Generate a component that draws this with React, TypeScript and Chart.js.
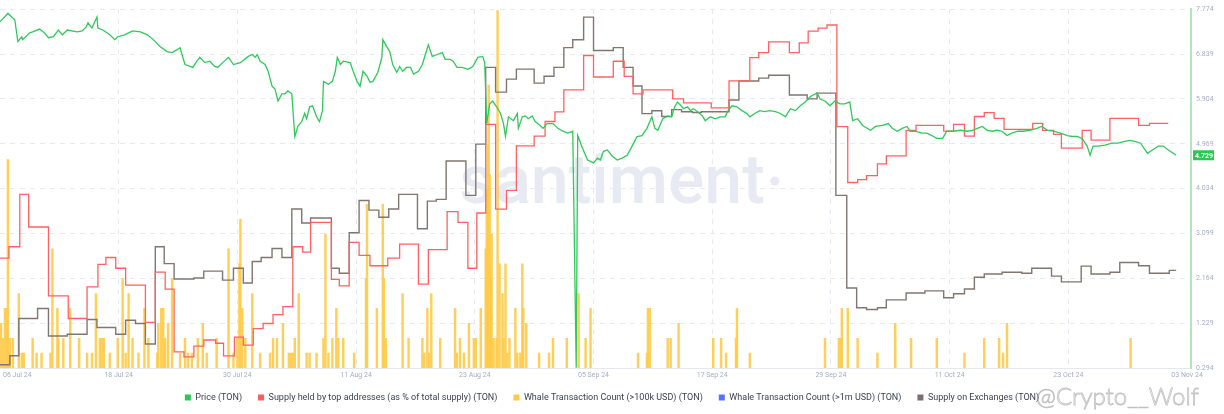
import React, { useEffect, useRef } from "react";
import { Chart, registerables } from "chart.js";

Chart.register(...registerables);
Chart.defaults.font.family = 'Roboto, "Noto Sans", sans-serif';

// ---- Axis tick labels ----
const xTickDays = [0, 12, 24, 36, 48, 60, 72, 84, 96, 108, 120];
const xTickLabels = [
  "06 Jul 24", "18 Jul 24", "30 Jul 24", "11 Aug 24", "23 Aug 24", "05 Sep 24",
  "17 Sep 24", "29 Sep 24", "11 Oct 24", "23 Oct 24", "03 Nov 24",
];
const priceTicks = [0.294, 1.229, 2.164, 3.099, 4.034, 4.969, 5.904, 6.839, 7.774];

// ---- Price (TON), x = days since 06 Jul 24 ----
const priceDays = [
  0, 0.8, 1.5, 1.8, 2.2, 2.3, 3.0, 3.3, 4.0, 4.5,
  4.9, 5.4, 5.9, 6.3, 6.8, 7.8, 8.3, 8.7, 8.9, 9.3,
  9.8, 9.9, 10.4, 11.1, 11.6, 11.9, 12.6, 13.4, 14.2, 14.9,
  15.5, 16.2, 16.9, 17.4, 17.9, 18.2, 18.7, 19.2, 19.5, 19.9,
  20.2, 20.7, 21.2, 21.7, 22.0, 22.5, 23.1, 23.6, 24.3, 25.1,
  25.5, 25.8, 26.0, 26.3, 26.8, 27.1, 27.5, 27.8, 28.1, 28.5,
  28.8, 29.1, 29.5, 29.8, 30.0, 30.1, 30.5, 30.8, 31.0, 31.3,
  31.6, 32.0, 32.3, 32.6, 32.7, 33.2, 33.6, 33.9, 34.1, 34.4,
  34.7, 35.4, 35.7, 36.1, 36.4, 36.7, 37.1, 37.4, 37.7, 38.2,
  38.6, 38.7, 39.1, 39.4, 39.7, 40.1, 40.4, 40.7, 41.1, 41.5,
  41.8, 42.3, 42.7, 43.0, 43.3, 43.7, 44.2, 44.7, 45.0, 45.5,
  45.8, 46.2, 46.7, 47.3, 47.8, 48.3, 48.8, 49.0, 49.2, 49.5,
  49.8, 50.2, 50.6, 50.9, 51.1, 51.4, 51.9, 52.3, 52.4, 52.8,
  53.1, 53.4, 53.8, 54.1, 54.6, 54.9, 55.3, 55.9, 56.4, 56.9,
  57.4, 57.9, 58.25, 58.4, 58.8, 59.1, 59.4, 60.0, 60.4, 60.7,
  61.0, 61.4, 61.9, 62.4, 62.9, 63.4, 63.9, 64.4, 64.9, 65.4,
  65.9, 66.2, 66.5, 67.0, 67.5, 67.9, 68.2, 68.5, 69.1, 69.5,
  69.8, 70.1, 70.5, 71.0, 71.3, 71.8, 72.3, 72.8, 73.3, 73.6,
  74.0, 74.5, 75.0, 75.5, 75.8, 76.3, 76.8, 77.3, 77.8, 78.4,
  78.9, 79.4, 79.9, 80.4, 80.9, 81.4, 81.9, 82.6, 82.9, 83.4,
  83.9, 84.4, 84.9, 85.4, 85.9, 86.2, 86.7, 87.2, 88.0, 88.5,
  89.2, 89.8, 90.2, 90.7, 91.2, 91.7, 92.0, 92.5, 93.2, 93.7,
  94.2, 94.7, 95.3, 95.7, 96.3, 97.1, 97.8, 98.3, 98.8, 99.3,
  99.8, 100.3, 100.8, 101.3, 101.8, 102.3, 102.9, 103.4, 104.1, 104.8,
  105.3, 105.9, 106.5, 107.2, 107.9, 108.4, 108.9, 109.4, 109.9, 110.2,
  110.5, 111.0, 111.7, 112.4, 113.0, 113.7, 114.2, 114.7, 115.3, 116.0,
  116.5, 117.1, 117.6, 118.1, 118.6, 118.9,
];
const priceValues = [
  7.51, 7.69, 7.55, 7.10, 7.20, 7.14, 7.28, 7.30, 7.36, 7.28,
  7.18, 7.20, 7.34, 7.24, 7.34, 7.30, 7.32, 7.40, 7.49, 7.38,
  7.61, 7.38, 7.34, 7.24, 7.14, 7.20, 7.24, 7.32, 7.30, 7.24,
  7.14, 6.99, 6.89, 6.87, 6.93, 6.97, 6.62, 6.58, 6.56, 6.69,
  6.77, 6.66, 6.69, 6.58, 6.56, 6.66, 6.77, 6.62, 6.66, 6.79,
  6.83, 6.77, 6.83, 6.69, 6.62, 6.48, 6.17, 6.11, 5.86, 6.01,
  6.01, 6.07, 6.01, 5.12, 5.25, 5.33, 5.43, 5.60, 5.49, 5.74,
  5.76, 5.53, 5.43, 5.66, 6.27, 6.21, 6.27, 6.48, 6.77, 6.62,
  6.69, 6.66, 6.48, 6.27, 6.17, 6.48, 6.38, 6.25, 6.27, 6.46,
  6.77, 7.14, 6.99, 6.89, 6.62, 6.46, 6.58, 6.48, 6.56, 6.56,
  6.42, 6.48, 6.62, 6.83, 7.03, 6.79, 6.83, 6.87, 6.73, 6.73,
  6.69, 6.56, 6.56, 6.52, 6.58, 6.77, 6.79, 6.66, 5.39, 5.80,
  5.86, 5.74, 5.60, 5.39, 5.12, 5.53, 5.45, 5.60, 5.29, 5.53,
  5.55, 5.49, 5.55, 5.43, 5.35, 5.29, 5.39, 5.39, 5.29, 5.23,
  5.19, 5.23, 0.30, 5.14, 4.92, 4.77, 4.63, 4.57, 4.67, 4.63,
  4.81, 4.84, 4.71, 4.63, 4.67, 4.73, 4.92, 5.12, 5.14, 5.29,
  5.53, 5.29, 5.25, 5.49, 5.55, 5.53, 5.74, 5.84, 5.70, 5.74,
  5.66, 5.70, 5.64, 5.55, 5.45, 5.53, 5.49, 5.53, 5.53, 5.66,
  5.76, 5.74, 5.66, 5.60, 5.53, 5.60, 5.66, 5.64, 5.66, 5.64,
  5.60, 5.53, 5.70, 5.66, 5.76, 5.84, 5.95, 6.03, 5.90, 5.86,
  5.76, 5.86, 5.80, 5.80, 5.84, 5.45, 5.49, 5.35, 5.25, 5.33,
  5.35, 5.39, 5.29, 5.23, 5.29, 5.33, 5.23, 5.23, 5.19, 5.19,
  5.14, 5.08, 5.08, 5.23, 5.23, 5.25, 5.23, 5.25, 5.29, 5.33,
  5.25, 5.23, 5.25, 5.23, 5.14, 5.19, 5.23, 5.23, 5.25, 5.29,
  5.33, 5.25, 5.23, 5.19, 5.14, 5.12, 5.12, 5.08, 4.92, 4.73,
  4.92, 4.92, 4.94, 4.98, 4.98, 5.02, 5.04, 5.02, 4.98, 4.77,
  4.84, 4.92, 4.92, 4.84, 4.77, 4.729,
];

// ---- Supply held by top addresses (relative level, step changes) ----
const topHolderDays = [
  0, 0.9, 2.0, 2.9, 4.9, 6.9, 8.8, 9.9, 10.7, 11.7,
  12.7, 14.7, 15.7, 16.7, 17.6, 18.6, 19.6, 20.6, 21.8, 22.6,
  23.7, 24.6, 25.6, 26.6, 27.6, 28.6, 29.6, 30.6, 31.4, 33.5,
  34.3, 35.3, 36.3, 37.4, 39.2, 40.4, 42.3, 43.3, 45.2, 46.3,
  47.3, 48.2, 49.1, 50.1, 51.2, 52.2, 54.0, 55.1, 56.1, 57.0,
  59.0, 60.0, 62.0, 63.1, 64.0, 65.0, 68.0, 69.1, 71.9, 73.7,
  75.8, 76.7, 77.7, 79.8, 80.8, 81.7, 82.7, 83.6, 84.6, 85.7,
  86.7, 87.6, 88.7, 89.6, 91.6, 92.6, 95.4, 96.4, 97.5, 98.5,
  99.5, 100.5, 101.5, 104.4, 105.4, 106.5, 107.3, 109.4, 110.3, 112.2,
  115.1, 116.2, 118.1,
];
const topHolderValues = [
  30.6, 33.8, 48.4, 39.3, 20.1, 13.8, 22.6, 28.9, 30.8, 27.8,
  23.1, 12.7, 26.7, 22.0, 4.5, 3.1, 6.1, 7.8, 6.9, 3.4,
  8.6, 6.4, 11.0, 12.4, 14.9, 17.1, 33.8, 32.3, 40.6, 24.7,
  22.9, 35.0, 31.4, 28.5, 30.6, 34.5, 23.4, 33.0, 43.6, 40.6,
  27.8, 43.2, 67.9, 44.3, 49.5, 61.9, 64.6, 68.7, 71.4, 77.5,
  87.1, 81.1, 85.5, 81.3, 76.4, 77.5, 75.0, 73.9, 72.5, 80.0,
  86.5, 87.9, 90.9, 87.9, 90.6, 93.9, 94.7, 95.6, 67.3, 51.7,
  52.5, 53.6, 56.9, 59.1, 66.2, 67.6, 66.0, 67.9, 64.6, 70.1,
  71.2, 69.6, 66.5, 68.2, 66.2, 65.1, 61.3, 66.2, 63.5, 69.6,
  67.6, 68.2, 68.2,
];

// ---- Supply on exchanges (relative level, step changes) ----
const exchangeDays = [
  0, 1.0, 1.9, 3.8, 4.9, 6.8, 8.8, 9.8, 11.7, 12.7,
  13.7, 14.7, 15.7, 16.6, 17.6, 19.6, 20.6, 22.5, 23.6, 24.6,
  25.5, 26.4, 27.5, 28.5, 29.5, 30.5, 31.4, 33.5, 34.3, 35.3,
  36.3, 37.3, 38.3, 39.3, 40.3, 42.2, 43.2, 44.1, 45.1, 47.1,
  48.1, 49.1, 50.1, 51.2, 52.2, 54.0, 55.0, 56.0, 57.0, 57.9,
  59.0, 60.0, 62.0, 63.0, 64.0, 64.9, 65.9, 66.9, 67.9, 68.9,
  70.0, 70.9, 73.7, 74.7, 76.7, 77.7, 79.8, 81.6, 82.6, 84.5,
  85.6, 86.6, 87.6, 88.7, 89.6, 91.6, 93.5, 95.4, 96.4, 97.5,
  98.5, 99.5, 101.3, 103.3, 104.3, 106.3, 107.3, 109.3, 110.3, 112.2,
  113.2, 115.1, 116.2, 118.2, 118.9,
];
const exchangeValues = [
  0.9, 3.4, 13.8, 16.6, 8.9, 9.4, 13.5, 11.3, 9.4, 13.3,
  12.4, 6.7, 33.8, 29.1, 24.8, 25.1, 27.0, 24.5, 27.8, 23.7,
  29.7, 30.8, 33.3, 30.8, 44.3, 40.4, 41.8, 27.8, 26.4, 37.7,
  46.7, 44.0, 42.0, 44.3, 48.4, 38.8, 46.5, 47.0, 57.7, 48.1,
  62.4, 83.8, 76.9, 80.5, 83.3, 79.4, 81.3, 83.8, 89.3, 91.5,
  97.8, 88.5, 89.3, 83.8, 78.6, 70.9, 71.7, 70.1, 72.0, 71.4,
  71.2, 71.4, 74.7, 80.0, 80.8, 81.6, 76.1, 75.0, 76.6, 48.1,
  22.3, 16.8, 16.3, 16.8, 19.0, 20.9, 21.5, 19.6, 20.7, 22.0,
  25.3, 26.2, 26.7, 26.4, 27.8, 25.6, 24.0, 28.4, 26.2, 26.7,
  29.4, 28.5, 26.4, 27.2, 27.2,
];

// ---- Whale Transaction Count (>100k USD) ----
const whaleDays = [
  0.1, 0.3, 0.5, 0.7, 0.8, 1.0, 1.3, 1.9, 2.2, 2.4,
  3.3, 3.7, 4.2, 5.1, 5.3, 5.8, 5.9, 6.4, 7.1, 8.0,
  8.8, 9.3, 9.7, 10.1, 10.3, 10.5, 11.1, 11.9, 12.4, 12.7,
  13.0, 13.4, 14.0, 14.6, 15.0, 15.9, 16.0, 16.3, 16.5, 16.7,
  17.0, 17.4, 18.2, 18.7, 19.0, 19.4, 20.0, 20.5, 20.9, 21.9,
  23.1, 23.6, 24.0, 24.2, 24.3, 24.5, 24.8, 25.5, 26.3, 27.3,
  27.6, 28.0, 28.6, 29.2, 29.4, 29.6, 29.8, 30.2, 31.0, 31.3,
  32.0, 32.7, 32.9, 33.2, 33.6, 34.0, 34.2, 34.7, 35.8, 37.0,
  37.1, 38.1, 38.7, 38.8, 39.0, 40.7, 41.3, 42.7, 42.9, 43.2,
  43.4, 43.6, 44.5, 46.0, 46.2, 46.5, 46.9, 47.4, 47.9, 48.1,
  48.6, 49.1, 49.2, 49.3, 49.4, 49.5, 49.6, 49.7, 49.9, 50.2,
  50.3, 50.5, 50.8, 50.9, 51.1, 51.3, 51.5, 52.1, 52.3, 52.6,
  52.8, 52.9, 53.2, 54.5, 55.5, 55.9, 57.3, 58.5, 59.2, 59.7,
  64.5, 65.4, 65.5, 65.7, 67.5, 67.8, 68.6, 72.1, 72.9, 73.4,
  74.4, 74.5, 75.8, 83.4, 84.8, 85.0, 85.1, 85.7, 86.7, 88.7,
  90.5, 92.1, 94.7, 97.5, 99.5, 101.0, 101.4, 101.8, 114.3,
];
const whaleCounts = [
  3, 2, 4, 4, 14, 2, 2, 5, 1, 1,
  2, 1, 1, 1, 8, 4, 2, 2, 4, 2,
  1, 1, 5, 2, 2, 2, 1, 2, 6, 1,
  5, 2, 1, 4, 2, 1, 3, 4, 4, 2,
  3, 6, 1, 2, 1, 1, 2, 3, 1, 2,
  8, 1, 2, 7, 10, 4, 2, 5, 1, 1,
  2, 2, 3, 1, 1, 1, 2, 5, 1, 1,
  1, 2, 9, 1, 2, 4, 2, 2, 1, 6,
  11, 4, 11, 6, 2, 5, 2, 2, 1, 4,
  1, 5, 2, 4, 1, 2, 1, 3, 2, 2,
  4, 8, 12, 15, 19, 13, 6, 9, 2, 2,
  24, 7, 5, 2, 7, 1, 2, 4, 1, 1,
  7, 4, 3, 1, 1, 2, 2, 5, 2, 4,
  1, 1, 4, 4, 2, 2, 3, 2, 2, 1,
  2, 4, 1, 2, 2, 2, 4, 4, 2, 1,
  3, 2, 2, 1, 2, 2, 1, 3, 2,
];

// ---- Whale Transaction Count (>1m USD): nothing visible ----
const whale1mDays: number[] = [];
const whale1mCounts: number[] = [];

const seriesLabels = [
  "Price (TON)",
  "Supply held by top addresses (as % of total supply) (TON)",
  "Whale Transaction Count (>100k USD) (TON)",
  "Whale Transaction Count (>1m USD) (TON)",
  "Supply on Exchanges (TON)",
];
const seriesColors = ["#26c953", "#ff5b5b", "#ffcb47", "#5275ff", "#7b716c"];

const GRID = "#e7e9f1";
const TICK = "#a6adc2";

function toPoints(xs: number[], ys: number[]) {
  return xs.map((x, i) => ({ x, y: ys[i] }));
}
function toSteps(xs: number[], ys: number[]) {
  const pts: { x: number; y: number }[] = [];
  xs.forEach((x, i) => {
    if (i > 0) pts.push({ x, y: ys[i - 1] });
    pts.push({ x, y: ys[i] });
  });
  return pts;
}

const watermarkPlugin = {
  id: "santimentMark",
  beforeDatasetsDraw(chart: any) {
    const { ctx, width } = chart;
    ctx.save();
    ctx.font = '500 68px Roboto, "Noto Sans", sans-serif';
    ctx.fillStyle = "#e8eaf3";
    ctx.textAlign = "center";
    ctx.textBaseline = "alphabetic";
    const cx = width / 2;
    const by = 203;
    ctx.fillText("santiment", cx, by);
    const w = ctx.measureText("santiment").width;
    ctx.beginPath();
    ctx.arc(cx + w / 2 + 10, by - 22, 4.5, 0, Math.PI * 2);
    ctx.fill();
    ctx.restore();
  },
};

const xLabelPlugin = {
  id: "xLabels",
  afterDraw(chart: any) {
    const { ctx, chartArea } = chart;
    const xs = chart.scales.x;
    ctx.save();
    ctx.font = '7px Roboto, "Noto Sans", sans-serif';
    ctx.fillStyle = TICK;
    ctx.textAlign = "center";
    ctx.textBaseline = "middle";
    xTickDays.forEach((d, i) => {
      const label = xTickLabels[i];
      const w = ctx.measureText(label).width;
      const px = Math.max(xs.getPixelForValue(d), w / 2 + 3);
      ctx.fillText(label, px, chartArea.bottom + 7.5);
    });
    ctx.restore();
  },
};

const priceTagPlugin = {
  id: "priceTag",
  afterDraw(chart: any) {
    const { ctx, chartArea } = chart;
    const last = priceValues[priceValues.length - 1];
    const y = chart.scales.yPrice.getPixelForValue(last);
    const x = chartArea.right + 2;
    ctx.save();
    ctx.fillStyle = seriesColors[0];
    ctx.fillRect(x, y - 5, 21, 10);
    ctx.font = 'bold 7px Roboto, "Noto Sans", sans-serif';
    ctx.fillStyle = "#ffffff";
    ctx.textAlign = "left";
    ctx.textBaseline = "middle";
    ctx.fillText(last.toFixed(3), x + 2, y + 0.5);
    ctx.restore();
  },
};

export default function App() {
  const canvasRef = useRef<HTMLCanvasElement>(null);

  useEffect(() => {
    if (!canvasRef.current) return;
    const chart = new Chart(canvasRef.current, {
      type: "line",
      data: {
        datasets: [
          {
            type: "line",
            label: seriesLabels[0],
            data: toPoints(priceDays, priceValues),
            borderColor: "#2fc95a",
            borderWidth: 1.3,
            pointRadius: 0,
            tension: 0,
            yAxisID: "yPrice",
            order: 0,
          },
          {
            type: "line",
            label: seriesLabels[1],
            data: toSteps(topHolderDays, topHolderValues),
            borderColor: "#ff6161",
            borderWidth: 1.3,
            pointRadius: 0,
            tension: 0,
            yAxisID: "yTop",
            order: 1,
          },
          {
            type: "bar",
            label: seriesLabels[2],
            data: toPoints(whaleDays, whaleCounts),
            backgroundColor: "rgba(255, 203, 71, 0.9)",
            barThickness: 1.8,
            stack: "whale",
            yAxisID: "yWhale",
            order: 3,
          } as any,
          {
            type: "bar",
            label: seriesLabels[3],
            data: toPoints(whale1mDays, whale1mCounts),
            backgroundColor: seriesColors[3],
            barThickness: 1.8,
            stack: "whale",
            yAxisID: "yWhale1m",
            order: 4,
          } as any,
          {
            type: "line",
            label: seriesLabels[4],
            data: toSteps(exchangeDays, exchangeValues),
            borderColor: "#80766f",
            borderWidth: 1.4,
            pointRadius: 0,
            tension: 0,
            yAxisID: "yExch",
            order: 2,
          },
        ],
      },
      options: {
        responsive: false,
        animation: false,
        layout: { padding: { top: 4, bottom: 2, left: 0, right: 0 } },
        plugins: {
          tooltip: { enabled: false },
          legend: {
            position: "bottom",
            labels: {
              boxWidth: 6,
              boxHeight: 6,
              padding: 16,
              color: "#3d4150",
              font: { size: 9 },
              generateLabels: (c: any) =>
                c.data.datasets.map((ds: any, i: number) => ({
                  text: ds.label,
                  fillStyle: seriesColors[i],
                  strokeStyle: seriesColors[i],
                  lineWidth: 0,
                  hidden: false,
                  datasetIndex: i,
                  fontColor: "#3d4150",
                })),
            },
          },
        },
        scales: {
          x: {
            type: "linear",
            min: 0,
            max: 120.4,
            offset: false,
            afterBuildTicks: (s: any) => {
              s.ticks = xTickDays.map((v) => ({ value: v }));
            },
            afterFit: (s: any) => {
              s.height = 9;
            },
            ticks: { display: false },
            grid: {
              color: (c: any) =>
                c.tick && (c.tick.value === xTickDays[0] || c.tick.value === xTickDays[xTickDays.length - 1])
                  ? "rgba(0,0,0,0)"
                  : GRID,
              lineWidth: 1,
              drawTicks: false,
              offset: false,
            },
            border: { color: "#e4e7ee", width: 1, dash: [5, 5] },
          },
          yPrice: {
            type: "linear",
            position: "right",
            min: 0.294,
            max: 7.774,
            afterBuildTicks: (s: any) => {
              s.ticks = priceTicks.map((v) => ({ value: v }));
            },
            afterFit: (s: any) => {
              s.width = 33;
            },
            ticks: {
              color: TICK,
              font: { size: 7 },
              padding: 5,
              callback: (v: any) => Number(v).toFixed(3),
            },
            grid: { color: GRID, lineWidth: 1, drawTicks: false },
            border: { color: "#aee8ba", width: 2, dash: [5, 5] },
          },
          yTop: { type: "linear", display: false, min: 0, max: 100 },
          yExch: { type: "linear", display: false, min: 0, max: 100 },
          yWhale: { type: "linear", display: false, min: 0, max: 24.1 },
          yWhale1m: { type: "linear", display: false, min: 0, max: 24.1 },
        },
      } as any,
      plugins: [watermarkPlugin, xLabelPlugin, priceTagPlugin],
    });
    return () => chart.destroy();
  }, []);

  return (
    <div style={{ position: "absolute", left: 0, top: 0, width: 1224, height: 414, background: "#ffffff" }}>
      <canvas ref={canvasRef} width={1224} height={414} style={{ display: "block", width: 1224, height: 414 }} />
      <div
        style={{
          position: "absolute",
          left: 1036,
          top: 383,
          fontFamily: 'Lato, "Open Sans", sans-serif',
          fontWeight: 300,
          fontSize: 24,
          lineHeight: "26px",
          color: "rgba(255,255,255,0.2)",
          WebkitTextStroke: "0.8px rgba(140,140,140,0.55)",
          whiteSpace: "nowrap",
          pointerEvents: "none",
        } as any}
      >
        @Crypto__Wolf
      </div>
    </div>
  );
}
